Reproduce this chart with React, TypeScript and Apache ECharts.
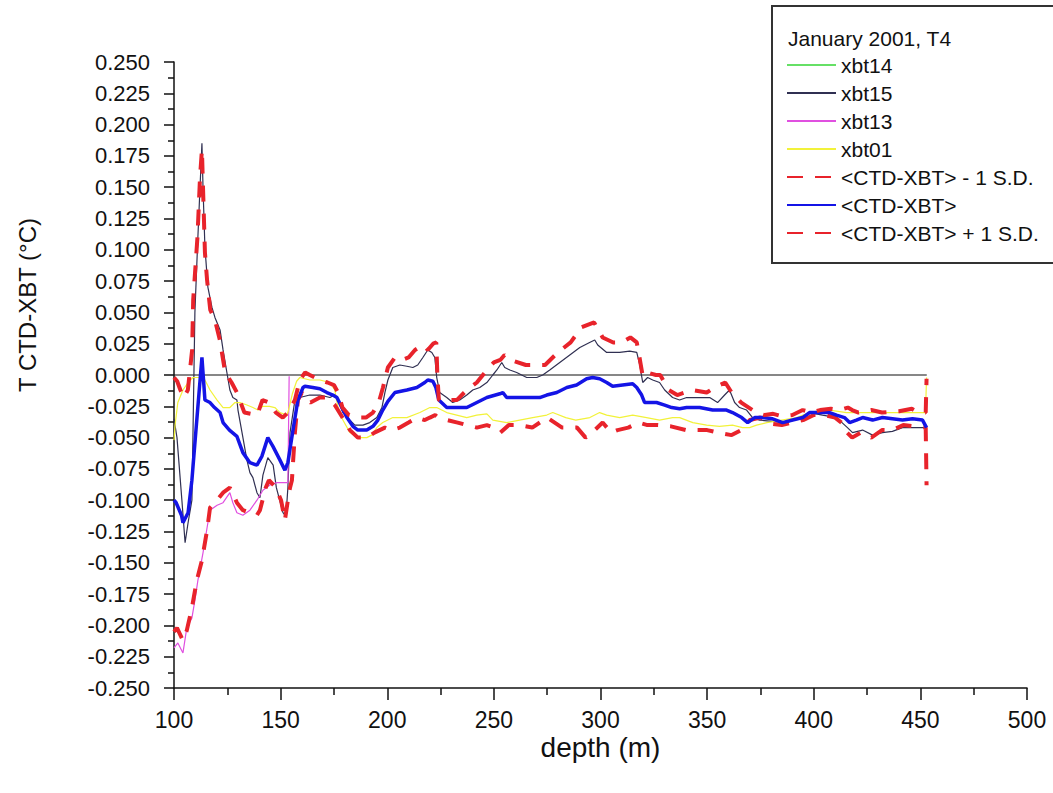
import React, { useEffect, useRef } from "react";
import * as echarts from "echarts";

const FONT = '"Liberation Sans", Arial, Helvetica, sans-serif';

const xTicks = { min: 100, max: 500, interval: 50 };
const yTicks = { min: -0.25, max: 0.25, interval: 0.025 };

const legendTitle = "January 2001, T4";
const seriesNames = ["xbt14", "xbt15", "xbt13", "xbt01", "<CTD-XBT> - 1 S.D.", "<CTD-XBT>", "<CTD-XBT> + 1 S.D."];

const xbt14: number[][] = [];

const xbt15: number[][] = [
  [100, -0.035], [101.4, -0.05], [103.7, -0.1], [105.2, -0.134], [106.6, -0.118], [108.4, -0.1],
  [109.8, 0.05], [111.2, 0.11], [112.2, 0.15], [113.1, 0.185], [113.6, 0.15], [114.5, 0.102],
  [115.9, 0.07], [117.8, 0.054], [119.2, 0.046], [121.6, 0.036], [123, 0.02], [124.8, 0.002],
  [126.2, -0.012], [127.6, -0.018], [129.5, -0.02], [130, -0.028], [131.9, -0.046], [134.2, -0.068],
  [135.6, -0.078], [137, -0.082], [138.9, -0.094], [140.3, -0.098], [141.7, -0.08], [144, -0.066],
  [146.5, -0.072], [148, -0.09], [151.1, -0.11], [152.5, -0.113], [153.4, -0.09], [154.4, -0.046],
  [156.7, -0.02], [159, -0.018], [163.7, -0.016], [168.4, -0.016], [173.1, -0.018], [175.4, -0.016],
  [176.9, -0.02], [179.2, -0.03], [182.5, -0.036], [184.8, -0.04], [188.6, -0.04], [191.8, -0.038],
  [195.1, -0.034], [197.5, -0.026], [198.9, -0.014], [200.3, -0.004], [202.6, 0.006], [205.9, 0.008],
  [209.2, 0.007], [212, 0.006], [214.3, 0.008], [216.7, 0.014], [219, 0.02], [220.9, 0.018],
  [222.3, 0.014], [223.2, -0.002], [224.6, -0.014], [227.9, -0.018], [230.7, -0.022], [234, -0.02],
  [237.3, -0.016], [240.1, -0.012], [243.4, -0.01], [246.7, -0.006], [249.5, 0], [251.4, 0.004],
  [253.7, 0.01], [255.1, 0.006], [257.5, 0.004], [260.7, 0.002], [265.4, -0.002], [270.1, -0.002],
  [272.9, 0], [276.2, 0.004], [280.9, 0.01], [285.6, 0.016], [290.3, 0.022], [294.9, 0.026],
  [297.3, 0.028], [298.7, 0.024], [302.9, 0.018], [309, 0.018], [313.7, 0.019], [317, 0.018],
  [318.4, 0.008], [319.8, -0.006], [322.1, -0.002], [324.5, -0.004], [327.7, -0.006], [330.1, -0.012],
  [333.8, -0.018], [337.1, -0.02], [340.4, -0.018], [346.5, -0.018], [351.2, -0.018], [354.9, -0.022],
  [358.2, -0.016], [360.5, -0.012], [362.9, -0.022], [365.2, -0.026], [368.5, -0.028], [371.3, -0.034],
  [374.6, -0.036], [380.7, -0.037], [387.3, -0.038], [393.3, -0.034], [398, -0.03], [404.1, -0.032],
  [410.7, -0.034], [415.8, -0.042], [418.2, -0.046], [422.9, -0.044], [427.6, -0.048], [432.2, -0.046],
  [436.9, -0.045], [441.6, -0.042], [446.3, -0.042], [451, -0.042], [452.9, -0.042],
];

const xbt13: number[][] = [
  [100, -0.218], [101.8, -0.214], [104.2, -0.222], [106, -0.202], [108.4, -0.194], [109.8, -0.18],
  [111.2, -0.164], [113.6, -0.142], [115.5, -0.122], [116.9, -0.108], [120.2, -0.104], [123, -0.102],
  [126.2, -0.094], [127.6, -0.102], [129.5, -0.11], [132.3, -0.112], [135.6, -0.108], [138.9, -0.1],
  [141.7, -0.092], [144.8, -0.088], [148.2, -0.086], [151.1, -0.086], [153.4, -0.086], [154, -0.001],
];

const xbt01: number[][] = [
  [100, -0.052], [100.5, -0.04], [101.8, -0.022], [104.2, -0.012], [106.6, -0.006], [108.9, -0.002],
  [112.2, -0.002], [114.5, -0.004], [116.9, -0.012], [120.2, -0.02], [123, -0.026], [126.2, -0.026],
  [128.6, -0.022], [130.9, -0.022], [134.2, -0.024], [137, -0.026], [139.4, -0.028], [141.7, -0.025],
  [144.8, -0.025], [147.3, -0.026], [149.7, -0.03], [153, -0.032], [153.4, -0.03], [155.5, -0.015],
  [157.5, -0.005], [159, -0.002], [163.7, -0.004], [168.4, -0.004], [173.1, -0.006], [175.4, -0.012],
  [176.9, -0.026], [179.2, -0.036], [182.5, -0.046], [186.2, -0.05], [190.4, -0.05], [192.7, -0.048],
  [195.1, -0.042], [197.9, -0.038], [202.6, -0.034], [209.2, -0.034], [215.3, -0.03], [220, -0.026],
  [223.2, -0.026], [227.9, -0.03], [232.6, -0.032], [237.3, -0.034], [242, -0.032], [246.7, -0.031],
  [249.5, -0.036], [256, -0.038], [262.1, -0.036], [268.2, -0.034], [274.8, -0.032], [277.6, -0.03],
  [283.7, -0.034], [288.4, -0.036], [295, -0.034], [299.6, -0.03], [302.9, -0.032], [309, -0.034],
  [315.1, -0.032], [321.6, -0.034], [327.7, -0.036], [333.8, -0.034], [337.1, -0.034], [343.3, -0.038],
  [349.8, -0.04], [355.8, -0.041], [361.9, -0.04], [366.6, -0.042], [369.9, -0.042], [373.2, -0.04],
  [378, -0.038], [385, -0.036], [392, -0.034], [398, -0.03], [404, -0.028], [407.4, -0.028],
  [415.4, -0.03], [422.9, -0.03], [430.5, -0.03], [438, -0.03], [446.3, -0.03], [452.4, -0.03],
  [452.9, -0.002],
];

const sdLower: number[][] = [
  [100, -0.205], [101.4, -0.202], [104.2, -0.212], [106, -0.204], [108.4, -0.186], [110.7, -0.164],
  [113.1, -0.148], [115.5, -0.124], [116.9, -0.106], [120.2, -0.1], [123, -0.094], [126.2, -0.09],
  [129.5, -0.102], [132.3, -0.108], [138.9, -0.112], [140.3, -0.108], [143, -0.09], [144.5, -0.084],
  [147.8, -0.09], [150.2, -0.1], [152, -0.116], [153.4, -0.1], [154.4, -0.09], [155.3, -0.084],
  [156.7, -0.046], [158.1, -0.02], [160, -0.014], [162.3, -0.02], [164, -0.022], [168.4, -0.018],
  [171.7, -0.018], [175.4, -0.024], [179, -0.034], [182.5, -0.044], [186.2, -0.05], [190.4, -0.05],
  [194, -0.046], [198.9, -0.042], [202, -0.044], [205.9, -0.042], [210, -0.038], [214, -0.034],
  [217.6, -0.036], [220, -0.034], [222.5, -0.032], [224, -0.034], [228, -0.036], [233, -0.038],
  [237.3, -0.04], [242, -0.042], [246.7, -0.04], [250, -0.042], [253, -0.046], [257, -0.04],
  [262, -0.04], [268, -0.042], [275, -0.034], [282, -0.042], [289, -0.042], [293, -0.05],
  [296, -0.046], [301, -0.038], [305, -0.046], [308, -0.044], [313, -0.042], [318, -0.038],
  [322, -0.04], [327, -0.04], [333, -0.041], [340, -0.044], [350, -0.044], [355, -0.046],
  [361.5, -0.048], [366, -0.044], [370, -0.036], [375, -0.034], [380, -0.039], [385, -0.04],
  [390, -0.038], [395, -0.036], [400, -0.032], [405, -0.032], [410, -0.034], [413, -0.038],
  [415, -0.045], [418, -0.05], [422, -0.046], [427, -0.05], [432, -0.044], [437, -0.044],
  [442, -0.04], [447, -0.041], [452.5, -0.042], [452.9, -0.088],
];

const meanDiff: number[][] = [
  [100, -0.1], [101, -0.102], [103.5, -0.112], [104.2, -0.118], [106.6, -0.11], [108.4, -0.084],
  [110.3, -0.044], [111.7, -0.015], [113.1, 0.014], [114.5, -0.02], [116.9, -0.022], [119, -0.026],
  [121.6, -0.03], [123, -0.038], [126, -0.044], [129.5, -0.049], [132.3, -0.062], [135.6, -0.07],
  [138.9, -0.072], [141.2, -0.065], [144, -0.05], [146.4, -0.057], [149.7, -0.068], [152, -0.076],
  [153.4, -0.07], [155.8, -0.044], [158.1, -0.02], [160.5, -0.01], [161.4, -0.009], [165.1, -0.01],
  [168.4, -0.011], [171.7, -0.014], [174.5, -0.016], [176.4, -0.018], [178.7, -0.026], [181.1, -0.034],
  [183.9, -0.041], [186.2, -0.044], [190.4, -0.044], [193.3, -0.041], [195.6, -0.036], [197.9, -0.028],
  [200.3, -0.021], [203.6, -0.014], [209.2, -0.012], [213.9, -0.01], [217.6, -0.006], [219, -0.004],
  [221.4, -0.005], [222.8, -0.01], [224.2, -0.02], [227.9, -0.026], [232.6, -0.026], [237.3, -0.026],
  [242, -0.022], [246.7, -0.018], [252.8, -0.015], [254.2, -0.014], [256, -0.018], [262.1, -0.018],
  [266.8, -0.018], [271.5, -0.018], [274.8, -0.016], [279.5, -0.014], [284.2, -0.01], [288.8, -0.008],
  [293.5, -0.003], [296.3, -0.002], [299.6, -0.003], [302.9, -0.006], [305.7, -0.009], [310.4, -0.008],
  [315.1, -0.007], [317, -0.01], [319.3, -0.016], [320.7, -0.022], [326.3, -0.022], [330.1, -0.024],
  [333.4, -0.026], [337.1, -0.027], [340.4, -0.026], [346.5, -0.026], [352.6, -0.028], [359.1, -0.028],
  [361.9, -0.03], [366.2, -0.034], [369, -0.038], [372.3, -0.034], [376, -0.034], [380.7, -0.035],
  [385.4, -0.038], [390.1, -0.036], [394.8, -0.034], [398, -0.03], [402.7, -0.03], [407.4, -0.03],
  [410.7, -0.032], [414.4, -0.034], [416.8, -0.038], [420, -0.036], [422.9, -0.034], [427.6, -0.036],
  [432.2, -0.034], [436.9, -0.035], [441.6, -0.036], [446.3, -0.035], [451, -0.036], [452.9, -0.042],
];

const sdUpper: number[][] = [
  [100, -0.002], [101.5, -0.005], [103, -0.012], [104.5, -0.018], [106.5, -0.012], [108.5, 0.02],
  [109, 0.06], [111, 0.11], [112.2, 0.158], [113.1, 0.18], [113.6, 0.15], [114.5, 0.098],
  [115.5, 0.076], [117, 0.052], [119.2, 0.044], [121.5, 0.028], [124, 0.002], [127, -0.006],
  [129.5, -0.014], [133, -0.03], [139, -0.032], [141.5, -0.02], [144.5, -0.022], [147.8, -0.03],
  [151, -0.034], [153.4, -0.03], [156.7, -0.02], [159, -0.004], [161.5, 0.002], [163.7, 0],
  [168.4, -0.004], [172, -0.006], [175, -0.008], [176.9, -0.014], [179, -0.026], [182, -0.032],
  [186, -0.034], [190, -0.034], [193.3, -0.03], [196, -0.022], [198, -0.01], [200.3, 0.006],
  [203.6, 0.014], [207, 0.012], [210, 0.014], [213, 0.02], [216.7, 0.024], [219, 0.02],
  [221.5, 0.025], [223, 0.026], [223.5, 0], [224.2, -0.02], [228, -0.02], [232.6, -0.02],
  [237.3, -0.012], [242, -0.006], [246.7, 0.004], [250, 0.01], [253, 0.012], [255, 0.016],
  [258, 0.012], [265, 0.008], [274, 0.008], [280, 0.018], [286, 0.026], [291, 0.038],
  [297, 0.042], [301, 0.03], [306, 0.026], [310, 0.026], [314, 0.03], [317, 0.026],
  [318.5, 0.012], [319.8, -0.001], [322, 0.002], [326, 0], [328, 0], [332, -0.012],
  [336, -0.016], [343, -0.012], [349.8, -0.014], [353.5, -0.01], [358.5, -0.006], [361.5, -0.014],
  [366, -0.022], [373, -0.03], [377, -0.032], [381, -0.031], [385, -0.033], [390, -0.032],
  [394.8, -0.028], [399, -0.03], [403, -0.028], [408, -0.027], [412, -0.028], [416, -0.026],
  [418, -0.028], [421, -0.03], [427, -0.028], [432, -0.03], [440, -0.029], [446, -0.027],
  [449, -0.03], [452.5, -0.03], [452.9, -0.003],
];

const zeroLine: number[][] = [
  [100, 0], [453, 0],
];

const colors = {
  xbt14: "#66e066",
  xbt15: "#303052",
  xbt13: "#e050e0",
  xbt01: "#f2f23a",
  sd: "#e8232b",
  mean: "#1414e6",
};

function fmtY(v: number): string {
  if (Math.abs(v) < 1e-9) return "0.000";
  return v.toFixed(3);
}

export default function App() {
  const ref = useRef<HTMLDivElement>(null);

  useEffect(() => {
    if (!ref.current) return;
    const chart = echarts.init(ref.current, null, { renderer: "svg" });
    const thin = (name: string, data: number[][], color: string) => ({
      name,
      type: "line",
      data,
      symbol: "none",
      showSymbol: false,
      lineStyle: { color, width: 1.2 },
      itemStyle: { color },
      emphasis: { disabled: true },
    });
    const dashed = (name: string, data: number[][]) => ({
      name,
      type: "line",
      data,
      symbol: "none",
      showSymbol: false,
      lineStyle: { color: colors.sd, width: 4, type: [16, 12] },
      itemStyle: { color: colors.sd },
      emphasis: { disabled: true },
    });
    chart.setOption({
      animation: false,
      backgroundColor: "#ffffff",
      textStyle: { fontFamily: FONT },
      grid: { left: 174, right: 26, top: 62, bottom: 105, outerBoundsMode: "none" },
      xAxis: {
        type: "value",
        min: xTicks.min,
        max: xTicks.max,
        interval: xTicks.interval,
        name: "depth (m)",
        nameLocation: "middle",
        nameGap: 45,
        nameMoveOverlap: false,
        nameTextStyle: { fontFamily: FONT, fontSize: 28, color: "#111" },
        axisLine: { show: true, onZero: false, lineStyle: { color: "#111", width: 1.5 } },
        axisTick: { show: true, inside: false, length: 12, lineStyle: { color: "#111", width: 1.5 } },
        minorTick: { show: true, splitNumber: 2, length: 7, lineStyle: { color: "#111", width: 1.5 } },
        axisLabel: { fontFamily: FONT, fontSize: 23, color: "#111", margin: 20 },
        splitLine: { show: false },
      },
      yAxis: {
        type: "value",
        min: yTicks.min,
        max: yTicks.max,
        interval: yTicks.interval,
        name: "T CTD-XBT (°C)",
        nameLocation: "middle",
        nameRotate: 90,
        nameGap: 135,
        nameMoveOverlap: false,
        nameTextStyle: { fontFamily: FONT, fontSize: 24, color: "#111", padding: [0, 0, 0, 140] },
        axisLine: { show: true, onZero: false, lineStyle: { color: "#111", width: 1.5 } },
        axisTick: { show: true, inside: false, length: 10, lineStyle: { color: "#111", width: 1.5 } },
        minorTick: { show: true, splitNumber: 2, length: 6, lineStyle: { color: "#111", width: 1.5 } },
        axisLabel: { fontFamily: FONT, fontSize: 22, color: "#111", margin: 24, formatter: fmtY },
        splitLine: { show: false },
      },
      legend: {
        data: seriesNames,
        orient: "vertical",
        left: 786,
        top: 51,
        padding: 0,
        itemGap: 0,
        itemWidth: 49,
        itemHeight: 14,
        itemStyle: { color: "transparent", borderColor: "transparent", borderWidth: 0, opacity: 0 },
        textStyle: { fontFamily: FONT, fontSize: 21, color: "#111", lineHeight: 28 },
        selectedMode: false,
      },
      graphic: [
        {
          type: "rect",
          z: 0,
          shape: { x: 772, y: 6, width: 320, height: 257 },
          style: { fill: "#ffffff", stroke: "none", lineWidth: 0 },
        },
        {
          type: "polyline",
          z: 1,
          shape: { points: [[1090, 6], [772, 6], [772, 263], [1090, 263]] },
          style: { fill: "none", stroke: "#333", lineWidth: 2 },
        },
        {
          type: "text",
          x: 788,
          y: 28,
          z: 1,
          style: { text: legendTitle, font: `21px ${FONT}`, fill: "#111" },
        },
      ],
      series: [
        {
          name: "zero",
          type: "line",
          data: zeroLine,
          symbol: "none",
          lineStyle: { color: "#111", width: 1.2 },
          emphasis: { disabled: true },
          silent: true,
        },
        thin(seriesNames[0], xbt14, colors.xbt14),
        thin(seriesNames[1], xbt15, colors.xbt15),
        thin(seriesNames[2], xbt13, colors.xbt13),
        thin(seriesNames[3], xbt01, colors.xbt01),
        dashed(seriesNames[4], sdLower),
        {
          name: seriesNames[5],
          type: "line",
          data: meanDiff,
          symbol: "none",
          showSymbol: false,
          lineStyle: { color: colors.mean, width: 3.5 },
          itemStyle: { color: colors.mean },
          emphasis: { disabled: true },
        },
        dashed(seriesNames[6], sdUpper),
      ],
    });
    return () => chart.dispose();
  }, []);

  return <div ref={ref} style={{ width: 1053, height: 793, position: "absolute", left: 0, top: 0 }} />;
}
